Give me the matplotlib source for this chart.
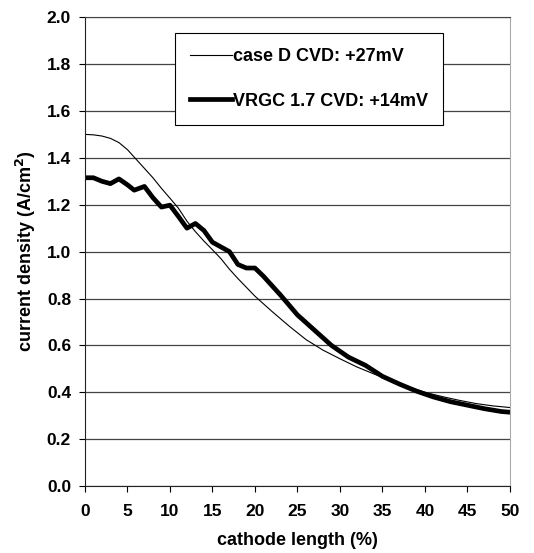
import matplotlib.pyplot as plt

plt.rcParams['font.family'] = ['Liberation Sans', 'DejaVu Sans']
plt.rcParams['font.weight'] = 'bold'

# case D CVD: +27mV (thin line)
x_case = [0, 1, 2, 3, 4, 5, 6, 7, 8, 9, 10, 11, 12, 13, 14, 15, 16, 17, 18,
          20, 22, 24, 26, 28, 30, 32, 34, 36, 38, 40, 42, 44, 46, 48, 50]
y_case = [1.50, 1.498, 1.493, 1.483, 1.465, 1.435, 1.395, 1.355, 1.315,
          1.27, 1.228, 1.185, 1.13, 1.085, 1.045, 1.008, 0.97, 0.925, 0.885,
          0.81, 0.745, 0.683, 0.625, 0.58, 0.543, 0.508, 0.478, 0.45, 0.424,
          0.40, 0.382, 0.366, 0.352, 0.342, 0.335]

# VRGC 1.7 CVD: +14mV (thick line)
x_vrgc = [0, 1, 2, 3, 4, 5, 5.8, 7, 8, 9, 10, 11, 12, 13, 14, 15, 16, 17,
          18, 19, 20, 21, 23, 25, 27, 29, 31, 33, 35, 37, 39, 41, 43, 45,
          47, 49, 50]
y_vrgc = [1.315, 1.315, 1.30, 1.29, 1.31, 1.285, 1.262, 1.278, 1.23, 1.19,
          1.198, 1.15, 1.10, 1.12, 1.09, 1.04, 1.02, 1.00, 0.945, 0.93,
          0.93, 0.895, 0.815, 0.73, 0.665, 0.60, 0.55, 0.515, 0.468, 0.435,
          0.405, 0.38, 0.36, 0.345, 0.33, 0.318, 0.315]

fig = plt.figure(figsize=(5.34, 5.53), dpi=100)
ax = fig.add_axes([0.159, 0.121, 0.796, 0.848])

ax.plot(x_case, y_case, color='black', lw=0.8, label='case D CVD: +27mV')
ax.plot(x_vrgc, y_vrgc, color='black', lw=3.4, label='VRGC 1.7 CVD: +14mV',
        solid_joinstyle='round')

ax.set_xlim(0, 50)
ax.set_ylim(0, 2.0)
ax.set_xticks(range(0, 51, 5))
ax.set_yticks([i * 0.2 for i in range(11)])
ax.set_yticklabels([f'{i * 0.2:.1f}' for i in range(11)])

# horizontal gridlines
ax.yaxis.grid(True, color='#444444', lw=0.9)
ax.set_axisbelow(True)

ax.spines['right'].set_color('#aaaaaa')
ax.spines['top'].set_color('#444444')
for s in ['left', 'bottom']:
    ax.spines[s].set_color('#222222')

ax.tick_params(direction='out', length=4, width=0.8, labelsize=12.5)
ax.tick_params(axis='x', pad=9)
ax.tick_params(axis='y', pad=6)

ax.set_xlabel('cathode length (%)', fontsize=13, fontweight='bold', labelpad=9)
ax.set_ylabel('current density (A/cm$^\\mathbf{2}$)', fontsize=13,
              fontweight='bold', labelpad=6)

leg = ax.legend(loc='upper left', bbox_to_anchor=(0.212, 0.966),
                fontsize=13, fancybox=False, framealpha=1,
                edgecolor='black', handlelength=2.3, labelspacing=1.5,
                borderpad=0.85, handletextpad=0.05, borderaxespad=0)
leg.get_frame().set_linewidth(0.8)

plt.savefig('out.png', dpi=100)
